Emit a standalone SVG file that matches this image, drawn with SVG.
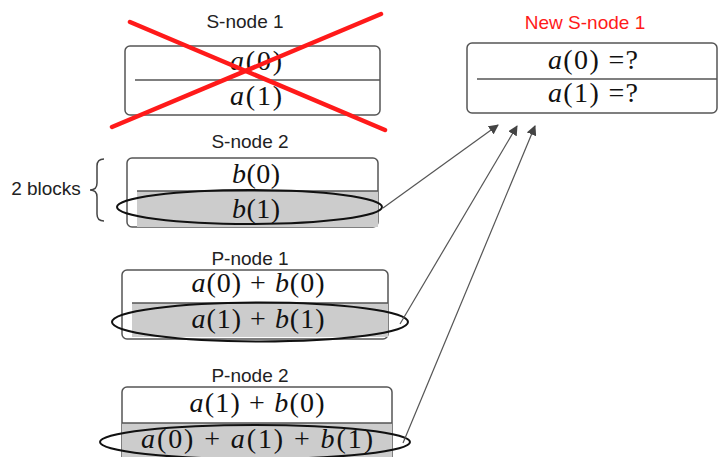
<svg xmlns="http://www.w3.org/2000/svg" width="727" height="457" viewBox="0 0 727 457">
<defs>
<style>
.box{fill:#fff;stroke:#555;stroke-width:1.5}
.div{stroke:#555;stroke-width:1.5}
.shade{fill:#cccccc}
.ell{fill:none;stroke:#111;stroke-width:2}
.lbl{font-family:"Liberation Sans",Arial,sans-serif;font-size:19px;fill:#222;text-anchor:middle}
.math{font-family:"Liberation Serif","Times New Roman",serif;font-size:28px;fill:#111;text-anchor:middle}
.i{font-style:italic}
.conn{stroke:#555;stroke-width:1.2;fill:none;marker-end:url(#arr)}
</style>
<marker id="arr" viewBox="0 0 10 10" refX="9" refY="5" markerWidth="10" markerHeight="10" markerUnits="userSpaceOnUse" orient="auto">
<path d="M0,0 L10,5 L0,10 z" fill="#444"/>
</marker>
</defs>
<rect width="727" height="457" fill="#fff"/>

<g id="snode1">
<text class="lbl" x="245" y="28">S-node 1</text>
<rect class="box" x="125" y="46" width="255" height="69" rx="5"/>
<line class="div" x1="135" y1="80" x2="380" y2="80"/>
<text class="math" x="256" y="70" textLength="52" lengthAdjust="spacing"><tspan class="i">a</tspan>(0)</text>
<text class="math" x="256" y="105" textLength="52" lengthAdjust="spacing"><tspan class="i">a</tspan>(1)</text>
<line x1="130" y1="22" x2="385" y2="130" stroke="#ff1a1a" stroke-width="4.5" stroke-linecap="round"/>
<line x1="381" y1="14" x2="112" y2="127" stroke="#ff1a1a" stroke-width="4.5" stroke-linecap="round"/>
</g>

<g id="snode2">
<text class="lbl" x="250" y="148">S-node 2</text>
<rect class="box" x="127" y="158" width="251" height="69" rx="5"/>
<rect class="shade" x="137" y="191" width="241" height="36"/>
<line class="div" x1="137" y1="191" x2="378" y2="191"/>
<text class="math" x="256" y="183" textLength="48" lengthAdjust="spacing"><tspan class="i">b</tspan>(0)</text>
<text class="math" x="256" y="218" textLength="48" lengthAdjust="spacing"><tspan class="i">b</tspan>(1)</text>
<ellipse class="ell" cx="249.5" cy="207" rx="132.5" ry="17"/>
</g>

<g id="brace">
<text class="lbl" x="46" y="195">2 blocks</text>
<path d="M104,159 Q97,159 97,166 L97,183 Q97,190 90,190 Q97,190 97,197 L97,214 Q97,221 104,221" fill="none" stroke="#444" stroke-width="1.5"/>
</g>

<g id="pnode1">
<text class="lbl" x="250" y="265">P-node 1</text>
<rect class="box" x="122" y="270" width="266" height="69" rx="5"/>
<rect class="shade" x="132" y="303" width="256" height="34"/>
<line class="div" x1="132" y1="303" x2="388" y2="303"/>
<text class="math" x="258" y="292" textLength="133" lengthAdjust="spacing"><tspan class="i">a</tspan>(0) + <tspan class="i">b</tspan>(0)</text>
<text class="math" x="258" y="328" textLength="133" lengthAdjust="spacing"><tspan class="i">a</tspan>(1) + <tspan class="i">b</tspan>(1)</text>
<ellipse class="ell" cx="260" cy="322" rx="148" ry="19.5"/>
</g>

<g id="pnode2">
<text class="lbl" x="250" y="382">P-node 2</text>
<rect class="box" x="122" y="387" width="270" height="80" rx="5"/>
<rect class="shade" x="122" y="423" width="270" height="34"/>
<line class="div" x1="122" y1="423" x2="392" y2="423"/>
<text class="math" x="257" y="412" textLength="135" lengthAdjust="spacing"><tspan class="i">a</tspan>(1) + <tspan class="i">b</tspan>(0)</text>
<text class="math" x="257" y="448" textLength="232" lengthAdjust="spacing"><tspan class="i">a</tspan>(0) + <tspan class="i">a</tspan>(1) + <tspan class="i">b</tspan>(1)</text>
<ellipse class="ell" cx="255" cy="442" rx="155" ry="17"/>
</g>

<g id="newsnode1">
<text class="lbl" x="585" y="29" style="fill:#ff1a1a">New S-node 1</text>
<rect class="box" x="467" y="43" width="250" height="70" rx="5"/>
<line class="div" x1="477" y1="79" x2="717" y2="79"/>
<text class="math" x="593" y="69" textLength="90" lengthAdjust="spacing"><tspan class="i">a</tspan>(0) =?</text>
<text class="math" x="593" y="102" textLength="90" lengthAdjust="spacing"><tspan class="i">a</tspan>(1) =?</text>
</g>

<g id="connectors">
<line class="conn" x1="383" y1="208" x2="498" y2="125"/>
<line class="conn" x1="400" y1="324" x2="517" y2="126"/>
<line class="conn" x1="403" y1="443" x2="535" y2="126"/>
</g>
</svg>
